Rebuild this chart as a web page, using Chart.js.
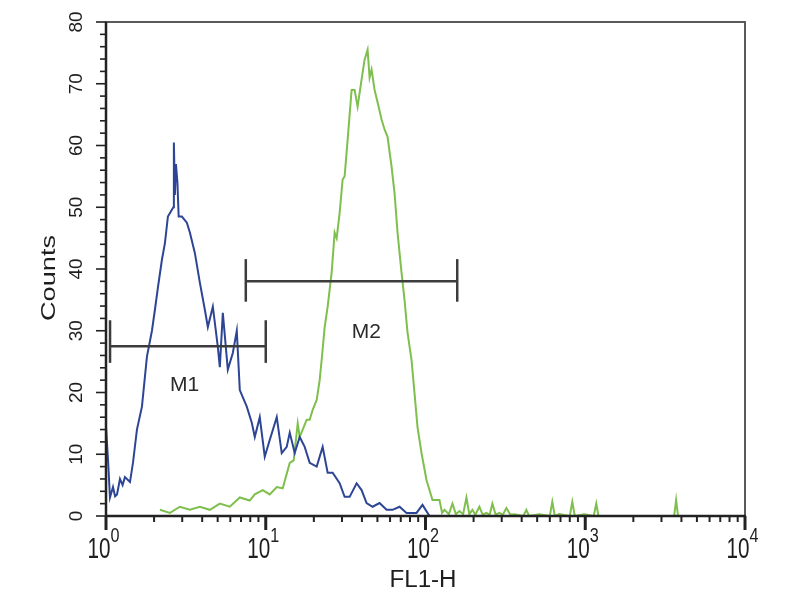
<!DOCTYPE html>
<html>
<head>
<meta charset="utf-8">
<script src="https://cdn.jsdelivr.net/npm/chart.js@4"></script>
<style>
  html, body { margin: 0; padding: 0; background: #fff; }
  #wrap { width: 800px; height: 600px; }
</style>
</head>
<body>
<div id="wrap"><canvas id="histo" width="800" height="600"></canvas></div>
<script>
// FL1-H intensity vs counts
const blueCounts = [
  [1.0, 14.4], [1.03, 9], [1.059, 3.0], [1.106, 4.7], [1.14, 3.2], [1.172, 3.5],
  [1.223, 6.0], [1.27, 5.0], [1.314, 6.3], [1.413, 5.5], [1.475, 8.6], [1.562, 14],
  [1.679, 17.7], [1.804, 25.8], [1.939, 30], [2.024, 33.4], [2.113, 37], [2.239, 41.5],
  [2.338, 44.2], [2.441, 48.5], [2.585, 49.6], [2.64, 50], [2.66, 60.5], [2.70, 52],
  [2.74, 57], [2.80, 54], [2.85, 48.5], [2.985, 48.5], [3.208, 47.5], [3.35, 45.9],
  [3.599, 42.6], [3.868, 37.8], [4.157, 33.4], [4.34, 30.6], [4.665, 33.9], [5.012, 27.4],
  [5.158, 24.1], [5.386, 32.9], [5.788, 23.7], [6.22, 26.4], [6.588, 30], [6.879, 20.4],
  [7.608, 17.7], [8.178, 15.1], [8.538, 12.8], [9.173, 16], [9.857, 9.6], [10.59, 12.3],
  [11.72, 16], [12.59, 10.2], [13.53, 11.2], [14.13, 13.5], [15.18, 10.2], [16.31, 12.8],
  [17.53, 11.2], [18.84, 8.6], [20.84, 8], [22.71, 11.2], [24.41, 7], [26.23, 7],
  [29.01, 5.3], [31.17, 3.1], [33.5, 3.1], [37.05, 5.3], [39.81, 4.2], [42.78, 2.1],
  [46.65, 1.5], [51.58, 2.1], [57.04, 1], [62.2, 1], [68.79, 1.5], [76.08, 0.5],
  [87.86, 0.5], [95.78, 1.8], [105.9, 0], [10000, 0]
];

const greenCounts = [
  [2.175, 1], [2.512, 0.5], [2.9, 1.5], [3.35, 1], [3.868, 1.5], [4.467, 1],
  [5.158, 2], [5.957, 1.5], [6.879, 3], [7.943, 2.5], [8.538, 3.5], [9.576, 4.2],
  [10.59, 3.5], [11.72, 4.7], [12.77, 4.5], [14.13, 8.6], [14.96, 9], [15.85, 15],
  [16.31, 12.8], [17.03, 14], [18.05, 15.6], [18.84, 15.6], [19.67, 17.2], [20.84, 18.8],
  [21.75, 22], [22.39, 25.3], [23.38, 30.6], [24.41, 33.9], [25.85, 39.4], [26.99, 45.9],
  [27.79, 45], [29.01, 49.1], [30.28, 54.5], [31.17, 55], [32.55, 60.9], [34.47, 69],
  [35.99, 69], [37.58, 66.3], [39.81, 70.7], [41.57, 73.9], [43.4, 75.5], [44.67, 71],
  [45.97, 72.3], [48.0, 69], [50.12, 67], [53.09, 64.2], [55.43, 62.6], [57.88, 61.4],
  [61.3, 56.6], [64.01, 52.3], [66.83, 45.9], [70.79, 39.4], [73.91, 35], [77.18, 29.7],
  [81.75, 25.3], [85.36, 19.9], [89.13, 14.4], [94.41, 10.2], [101.5, 5.8], [110.6, 2.6],
  [122.3, 2.6], [127, 0.5], [131.5, 1], [140, 0.3], [147.5, 2], [155, 0.3],
  [163.1, 0.8], [172, 0.3], [180.4, 3], [188, 0.3], [196.7, 1], [205, 0.2],
  [217.5, 1.5], [228, 0.2], [240.6, 0.5], [252, 0.2], [262.3, 2], [275, 0.2],
  [290.1, 0.5], [305, 0.2], [320.9, 1.3], [340, 0.2], [359.9, 0.3], [410, 0],
  [427.8, 1], [445, 0], [515.8, 0.3], [600, 0], [622.0, 2.3], [645, 0],
  [687.9, 0.3], [800, 0], [829.6, 2.3], [860, 0], [985.7, 0.3], [1130, 0],
  [1172, 2], [1210, 0], [3600, 0], [3705, 2.6], [3810, 0], [10000, 0]
];

// marker gates
const gateNames = ['M1', 'M2'];
const gateFrom = [1.06, 7.5];
const gateTo = [10, 158];
const gateLevel = [27.5, 38];
const gateCapLow = [24.8, 34.7];
const gateCapHigh = [31.7, 41.6];
const gateLabelX = [3.1, 42.6];
const gateLabelY = [20.3, 28.9];

// tick labels
const yTicks = [0, 10, 20, 30, 40, 50, 60, 70, 80];
const xDecades = [1, 10, 100, 1000, 10000];
const xExponents = ['0', '1', '2', '3', '4'];

function drawText(ctx, text, x, y, size, width, angle, align) {
  ctx.save();
  ctx.translate(x, y);
  ctx.rotate(angle || 0);
  ctx.font = size + 'px "Liberation Sans", Arial, sans-serif';
  let w = ctx.measureText(text).width;
  ctx.scale(width ? width / w : 1, 1);
  ctx.textAlign = align || 'center';
  ctx.textBaseline = 'alphabetic';
  ctx.fillText(text, 0, 0);
  ctx.restore();
}

function seg(ctx, x1, y1, x2, y2) {
  ctx.beginPath();
  ctx.moveTo(x1, y1);
  ctx.lineTo(x2, y2);
  ctx.stroke();
}

const decor = {
  id: 'decor',
  afterDatasetsDraw(chart) {
    const ctx = chart.ctx;
    const a = chart.chartArea;
    const x = chart.scales.x, y = chart.scales.y;
    ctx.save();

    // box
    ctx.strokeStyle = '#5a5a5a';
    ctx.lineWidth = 2;
    ctx.strokeRect(a.left, a.top, a.right - a.left, a.bottom - a.top);
    ctx.strokeStyle = '#222';
    ctx.lineWidth = 2.5;
    seg(ctx, a.left, a.top, a.left, a.bottom + 1);
    seg(ctx, a.left - 1, a.bottom, a.right + 1, a.bottom);

    // y ticks
    ctx.lineWidth = 1.6;
    for (let v = 0; v <= 80; v += 2) {
      let py = y.getPixelForValue(v);
      let len = v % 10 === 0 ? 10 : 6;
      seg(ctx, a.left - len, py, a.left, py);
    }
    // x ticks
    for (let d = 0; d < xDecades.length; d++) {
      let px = x.getPixelForValue(xDecades[d]);
      ctx.lineWidth = 3;
      seg(ctx, px, a.bottom, px, a.bottom + 14);
      if (d === xDecades.length - 1) break;
      ctx.lineWidth = 2;
      for (let k = 2; k <= 9; k++) {
        let mx = x.getPixelForValue(k * xDecades[d]);
        seg(ctx, mx, a.bottom, mx, a.bottom + 6);
      }
    }

    ctx.fillStyle = '#1e1e1e';
    // y labels, rotated
    yTicks.forEach(v => {
      drawText(ctx, String(v), 82, y.getPixelForValue(v), 19, 0, -Math.PI / 2);
    });
    // x labels 10^n
    xDecades.forEach((v, i) => {
      let px = x.getPixelForValue(v);
      drawText(ctx, '10', px - 7, 558, 29, 23);
      drawText(ctx, xExponents[i], px + 9, 542, 20, 9);
    });

    // axis titles
    drawText(ctx, 'Counts', 55, 278, 21, 86, -Math.PI / 2);
    drawText(ctx, 'FL1-H', 423, 587, 23, 67);

    // gates
    ctx.strokeStyle = '#3c3c3c';
    ctx.lineWidth = 2.5;
    for (let i = 0; i < gateNames.length; i++) {
      let x1 = x.getPixelForValue(gateFrom[i]);
      let x2 = x.getPixelForValue(gateTo[i]);
      let gy = y.getPixelForValue(gateLevel[i]);
      let lo = y.getPixelForValue(gateCapLow[i]);
      let hi = y.getPixelForValue(gateCapHigh[i]);
      seg(ctx, x1, gy, x2, gy);
      seg(ctx, x1, lo, x1, hi);
      seg(ctx, x2, lo, x2, hi);
      ctx.fillStyle = '#2a2a2a';
      drawText(ctx, gateNames[i], x.getPixelForValue(gateLabelX[i]), y.getPixelForValue(gateLabelY[i]), 21, 0);
    }
    ctx.restore();
  }
};

new Chart(document.getElementById('histo'), {
  type: 'line',
  data: {
    datasets: [
      {
        label: 'control',
        data: blueCounts.map(p => ({x: p[0], y: p[1]})),
        borderColor: '#2d4595',
        borderWidth: 2,
        pointRadius: 0,
        tension: 0,
        fill: false
      },
      {
        label: 'stained',
        data: greenCounts.map(p => ({x: p[0], y: p[1]})),
        borderColor: '#7fbf4d',
        borderWidth: 2,
        pointRadius: 0,
        tension: 0,
        fill: false
      }
    ]
  },
  options: {
    responsive: false,
    animation: false,
    parsing: true,
    layout: { padding: { left: 106, right: 55, top: 22, bottom: 84 } },
    plugins: { legend: { display: false }, tooltip: { enabled: false } },
    scales: {
      x: { type: 'logarithmic', min: 1, max: 10000, display: false },
      y: { type: 'linear', min: 0, max: 80, display: false }
    }
  },
  plugins: [decor]
});
</script>
</body>
</html>
